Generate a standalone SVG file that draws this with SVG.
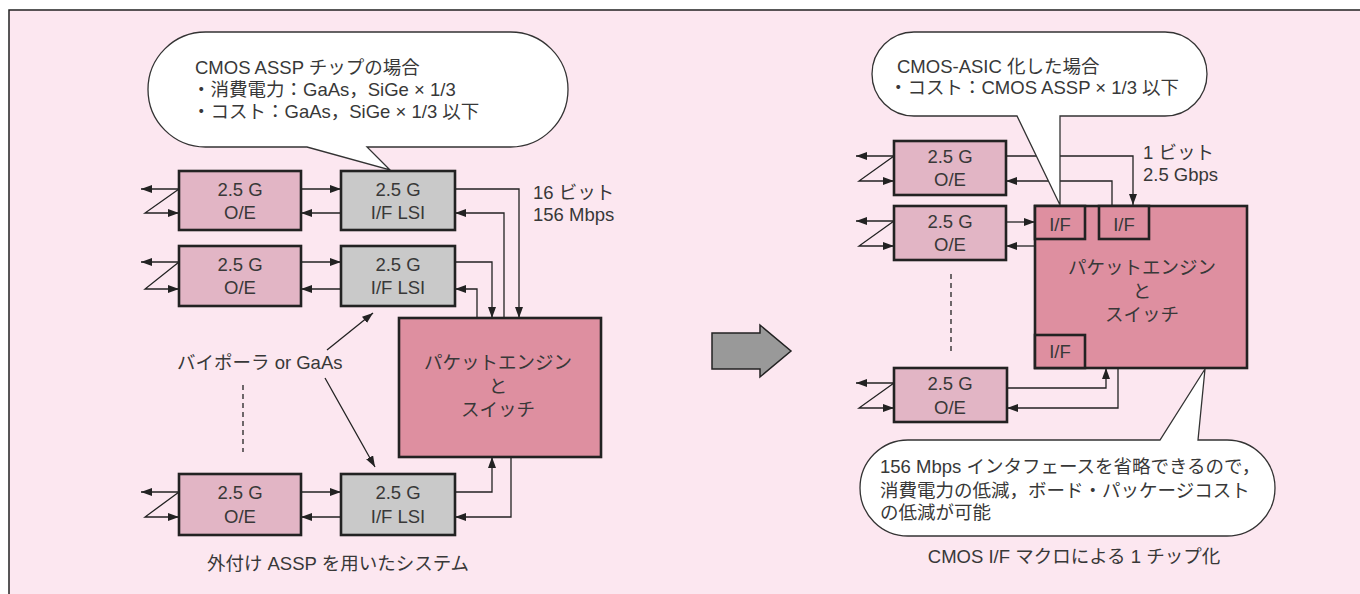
<svg xmlns="http://www.w3.org/2000/svg" width="1360" height="594" viewBox="0 0 1360 594">
<style>
text{font-family:"Liberation Sans","Noto Sans CJK JP",sans-serif;font-size:18.5px;fill:#383838}
.c{text-anchor:middle}
.oe{fill:#e2b5c5;stroke:#222;stroke-width:2.6}
.lsi{fill:#c9c9c9;stroke:#222;stroke-width:2.6}
.pk{fill:#de8fa0;stroke:#222;stroke-width:2.6}
.ln{fill:none;stroke:#222;stroke-width:1.3}
.ar{fill:none;stroke:#222;stroke-width:1.3;marker-end:url(#ah)}
.co{fill:#fff;stroke:#333;stroke-width:1.3}
.ds{stroke:#222;stroke-width:1.3;stroke-dasharray:5 4}
</style>
<defs>
<marker id="ah" markerUnits="userSpaceOnUse" markerWidth="11" markerHeight="8" refX="11" refY="4" orient="auto">
<path d="M0,0 L11,4 L0,8 z" fill="#222"/>
</marker>
</defs>
<rect x="0" y="0" width="1360" height="594" fill="#fff"/>
<rect x="9" y="10" width="1351" height="584" fill="#fce7f0"/>
<path d="M9,594 V10 H1360" fill="none" stroke="#222" stroke-width="1.5"/>

<g id="connectors">
<!-- left side -->
<polyline class="ar" points="301,189 341,189"/>
<polyline class="ar" points="341,213 301,213"/>
<polyline class="ar" points="455,189 519,189 519,318"/>
<polyline class="ar" points="504,318 504,213 455,213"/>
<polyline class="ar" points="301,262 341,262"/>
<polyline class="ar" points="341,289 301,289"/>
<polyline class="ar" points="455,262 492,262 492,318"/>
<polyline class="ar" points="477,318 477,289 455,289"/>
<polyline class="ar" points="301,492 341,492"/>
<polyline class="ar" points="341,517 301,517"/>
<polyline class="ar" points="455,492 492,492 492,457"/>
<polyline class="ar" points="511,457 511,517 455,517"/>
<polyline class="ar" points="179,189 141,189"/>
<polyline class="ar" points="179,189 145,213 179,213"/>
<polyline class="ar" points="179,262 141,262"/>
<polyline class="ar" points="179,262 145,289 179,289"/>
<polyline class="ar" points="179,492 141,492"/>
<polyline class="ar" points="179,492 145,517 179,517"/>
<polyline class="ar" points="327,350 373,313"/>
<polyline class="ar" points="325,378 375,467"/>
<line class="ds" x1="243" y1="385" x2="243" y2="452"/>
<!-- right side -->
<polyline class="ar" points="1006,156 1133,156 1133,205"/>
<polyline class="ar" points="1112,205 1112,181 1006,181"/>
<polyline class="ar" points="1006,222 1035,222"/>
<polyline class="ar" points="1035,246 1006,246"/>
<polyline class="ar" points="1007,388 1106,388 1106,368"/>
<polyline class="ar" points="1118,368 1118,408 1007,408"/>
<polyline class="ar" points="894,156 856,156"/>
<polyline class="ar" points="894,156 859,181 894,181"/>
<polyline class="ar" points="894,221 856,221"/>
<polyline class="ar" points="894,221 859,246 894,246"/>
<polyline class="ar" points="894,383 856,383"/>
<polyline class="ar" points="894,383 859,408 894,408"/>
<line class="ds" x1="951" y1="274" x2="951" y2="353"/>
</g>

<g id="callout-left">
<path class="co" d="M205.5,32 H510.5 A57.5,57.5 0 0 1 510.5,147 H367 L390,170 L307,147 H205.5 A57.5,57.5 0 0 1 205.5,32 Z"/>
<text x="195" y="74">CMOS ASSP チップの場合</text>
<text x="192" y="96">・消費電力：GaAs，SiGe × 1/3</text>
<text x="192" y="118">・コスト：GaAs，SiGe × 1/3 以下</text>
</g>

<g id="oe-l1"><rect class="oe" x="179" y="171" width="122" height="59"/><text class="c" x="240" y="196">2.5 G</text><text class="c" x="240" y="219">O/E</text></g>
<g id="lsi-l1"><rect class="lsi" x="341" y="171" width="114" height="59"/><text class="c" x="398" y="196">2.5 G</text><text class="c" x="398" y="219">I/F LSI</text></g>
<g id="oe-l2"><rect class="oe" x="179" y="246" width="122" height="60"/><text class="c" x="240" y="271">2.5 G</text><text class="c" x="240" y="294">O/E</text></g>
<g id="lsi-l2"><rect class="lsi" x="341" y="246" width="114" height="60"/><text class="c" x="398" y="271">2.5 G</text><text class="c" x="398" y="294">I/F LSI</text></g>
<g id="oe-l3"><rect class="oe" x="179" y="474" width="122" height="61"/><text class="c" x="240" y="499">2.5 G</text><text class="c" x="240" y="523">O/E</text></g>
<g id="lsi-l3"><rect class="lsi" x="341" y="474" width="114" height="61"/><text class="c" x="398" y="499">2.5 G</text><text class="c" x="398" y="523">I/F LSI</text></g>
<g id="packet-l"><rect class="pk" x="399" y="318" width="202" height="139"/>
<text class="c" x="498" y="369">パケットエンジン</text><text class="c" x="498" y="393">と</text><text class="c" x="498" y="416">スイッチ</text></g>

<g id="labels-left">
<text x="533" y="199">16 ビット</text>
<text x="533" y="221">156 Mbps</text>
<text x="177" y="369">バイポーラ or GaAs</text>
<text class="c" x="338" y="570">外付け ASSP を用いたシステム</text>
</g>

<g id="big-arrow"><polygon points="712,333 760,333 760,325 791,351 760,377 760,369 712,369" fill="#999" stroke="#222" stroke-width="1.5"/></g>

<g id="oe-r1"><rect class="oe" x="894" y="141" width="112" height="54"/><text class="c" x="950" y="163">2.5 G</text><text class="c" x="950" y="186">O/E</text></g>
<g id="oe-r2"><rect class="oe" x="894" y="206" width="112" height="54"/><text class="c" x="950" y="228">2.5 G</text><text class="c" x="950" y="251">O/E</text></g>
<g id="oe-r3"><rect class="oe" x="894" y="368" width="113" height="54"/><text class="c" x="950" y="390">2.5 G</text><text class="c" x="950" y="414">O/E</text></g>
<g id="packet-r"><rect class="pk" x="1035" y="206" width="212" height="162"/>
<text class="c" x="1142" y="274">パケットエンジン</text><text class="c" x="1142" y="298">と</text><text class="c" x="1142" y="321">スイッチ</text></g>
<g id="if-r1"><rect class="pk" x="1035" y="206" width="50" height="33"/><text class="c" x="1060" y="231">I/F</text></g>
<g id="if-r2"><rect class="pk" x="1099" y="206" width="50" height="33"/><text class="c" x="1124" y="231">I/F</text></g>
<g id="if-r3"><rect class="pk" x="1035" y="335" width="50" height="33"/><text class="c" x="1060" y="358">I/F</text></g>

<g id="callout-right-top">
<path class="co" d="M914,32 H1165 A42,42 0 0 1 1165,116 H1060 L1060,205 L1017,116 H914 A42,42 0 0 1 914,32 Z"/>
<text x="897" y="73">CMOS-ASIC 化した場合</text>
<text x="889" y="94">・コスト：CMOS ASSP × 1/3 以下</text>
</g>

<g id="callout-right-bottom">
<path class="co" d="M908,440 H1160 L1205,369 L1198,440 H1227 A48,48 0 0 1 1227,536 H908 A48,48 0 0 1 908,440 Z"/>
<text x="880" y="473">156 Mbps インタフェースを省略できるので，</text>
<text x="880" y="497">消費電力の低減，ボード・パッケージコスト</text>
<text x="880" y="519">の低減が可能</text>
</g>

<g id="labels-right">
<text x="1143" y="159">1 ビット</text>
<text x="1143" y="181">2.5 Gbps</text>
<text class="c" x="1074" y="563">CMOS I/F マクロによる 1 チップ化</text>
</g>
</svg>
